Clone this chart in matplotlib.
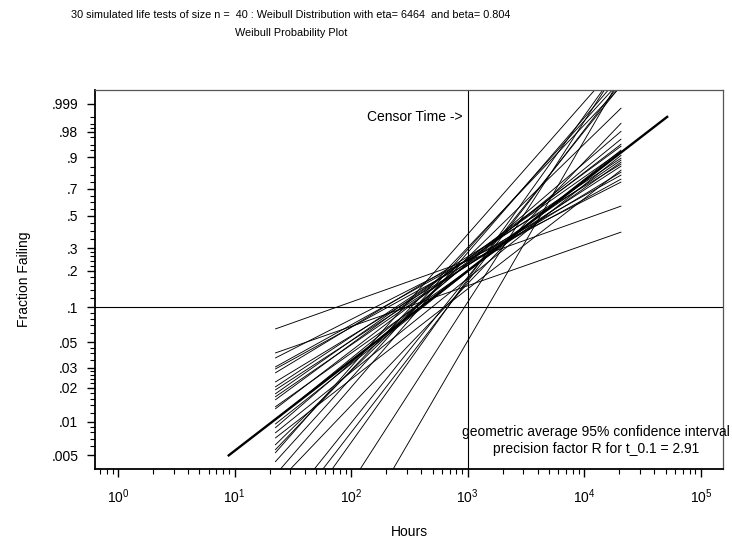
import numpy as np
import matplotlib
matplotlib.use("Agg")
import matplotlib.pyplot as plt
from matplotlib.ticker import FixedLocator, FixedFormatter, LogLocator, NullFormatter

plt.rcParams['font.family'] = ['Liberation Sans', 'DejaVu Sans']
plt.rcParams['mathtext.fontset'] = 'custom'
plt.rcParams['mathtext.rm'] = 'Liberation Sans'
plt.rcParams['mathtext.it'] = 'Liberation Sans:italic'

# Simulation settings
n_tests = 30
sample_size = 40
eta_true = 6464
beta_true = 0.804
censor_time = 1000
precision_R = 2.91
t_range = [22.3, 20800]          # time span over which each fitted line is drawn

# Weibull MLE fits (eta, beta) of the 30 simulated censored samples
eta_fit = [32630, 142900, 11170, 9173, 10510, 6836, 8937, 6311, 7840, 5546,
           6946, 5135, 7623, 5177, 4950, 6286, 4460, 7254, 10177, 3351,
           2540, 1882, 2517, 2543, 5049, 3491, 3554, 3146, 3771, 5171]
beta_fit = [0.370, 0.364, 0.530, 0.578, 0.572, 0.629, 0.632, 0.689, 0.674, 0.731,
            0.713, 0.764, 0.737, 0.797, 0.846, 0.825, 0.893, 0.836, 0.807, 1.014,
            1.095, 1.183, 1.149, 1.204, 1.089, 1.303, 1.351, 1.459, 1.616, 1.790]

# Probability axis
prob_ticks = [.005, .01, .02, .03, .05, .1, .2, .3, .5, .7, .9, .98, .999]
prob_labels = ['.005', '.01', '.02', '.03', '.05', '.1', '.2', '.3', '.5', '.7',
               '.9', '.98', '.999']
prob_minor = [.006, .007, .008, .009, .012, .014, .016, .018, .022, .024, .026,
              .028, .035, .04, .045, .06, .07, .08, .09, .12, .14, .16, .18,
              .22, .24, .26, .28, .35, .4, .45, .55, .6, .65, .75, .8, .85,
              .93, .95, .97, .985, .99, .995]


def weibull_fwd(p):
    p = np.clip(np.asarray(p, dtype=float), 1e-15, 1 - 1e-15)
    return np.log(-np.log1p(-p))


def weibull_inv(z):
    return -np.expm1(-np.exp(np.asarray(z, dtype=float)))


fig = plt.figure(figsize=(7.32, 5.41), dpi=100)
ax = fig.add_axes([95 / 732, 1 - 469 / 541, 628 / 732, 379 / 541])
ax.set_xscale('log')
ax.set_yscale('function', functions=(weibull_fwd, weibull_inv))

# Fitted lines
t = np.geomspace(t_range[0], t_range[1], 200)
for eta, beta in zip(eta_fit, beta_fit):
    p = -np.expm1(-(t / eta) ** beta)
    ax.plot(t, p, color='black', lw=0.65, solid_capstyle='butt')

# True distribution line
p_true = np.linspace(weibull_fwd(0.005), weibull_fwd(0.995), 100)
p_true = weibull_inv(p_true)
t_true = eta_true * (-np.log1p(-p_true)) ** (1 / beta_true)
ax.plot(t_true, p_true, color='black', lw=1.7)

ax.axhline(0.1, color='black', lw=0.8)
ax.axvline(censor_time, color='black', lw=0.8)

ax.set_xlim(0.635, 155000)
ax.set_ylim(0.00378, 0.99990)

ax.yaxis.set_major_locator(FixedLocator(prob_ticks))
ax.yaxis.set_major_formatter(FixedFormatter(prob_labels))
ax.yaxis.set_minor_locator(FixedLocator(prob_minor))
ax.yaxis.set_minor_formatter(NullFormatter())
ax.xaxis.set_major_locator(LogLocator(base=10, numticks=10))
ax.xaxis.set_minor_locator(LogLocator(base=10, subs=np.arange(2, 10), numticks=20))
ax.xaxis.set_minor_formatter(NullFormatter())

ax.tick_params(axis='both', which='major', direction='out', length=6, width=1.0,
               labelsize=10, color='black')
ax.tick_params(axis='both', which='minor', direction='out', length=3.5, width=0.8,
               color='black')
ax.tick_params(axis='x', which='major', pad=7)
ax.tick_params(axis='y', which='major', pad=6)

for side in ('top', 'right'):
    ax.spines[side].set_color('#555555')
    ax.spines[side].set_linewidth(0.9)
ax.spines['left'].set_linewidth(1.3)
ax.spines['bottom'].set_linewidth(1.3)

ax.set_xlabel('Hours', fontsize=10, labelpad=14)
ax.set_ylabel('Fraction Failing', fontsize=10, labelpad=15)

ax.annotate('Censor Time ->', xy=(censor_time, 0.995), xytext=(-5, 0),
            textcoords='offset pixels', ha='right', va='center', fontsize=10)
ax.text(0.798, 0.0976, 'geometric average 95% confidence interval',
        transform=ax.transAxes, ha='center', va='center', fontsize=10)
ax.text(0.798, 0.0528, f'precision factor R for t_0.1 = {precision_R}',
        transform=ax.transAxes, ha='center', va='center', fontsize=10)

fig.text(291 / 732, 1 - 15 / 541,
         f'{n_tests} simulated life tests of size n =  {sample_size} : Weibull '
         f'Distribution with eta= {eta_true}  and beta= {beta_true}',
         ha='center', va='center', fontsize=7.8)
fig.text(291 / 732, 1 - 33 / 541, 'Weibull Probability Plot',
         ha='center', va='center', fontsize=7.8)

fig.savefig('out.png', dpi=100)
